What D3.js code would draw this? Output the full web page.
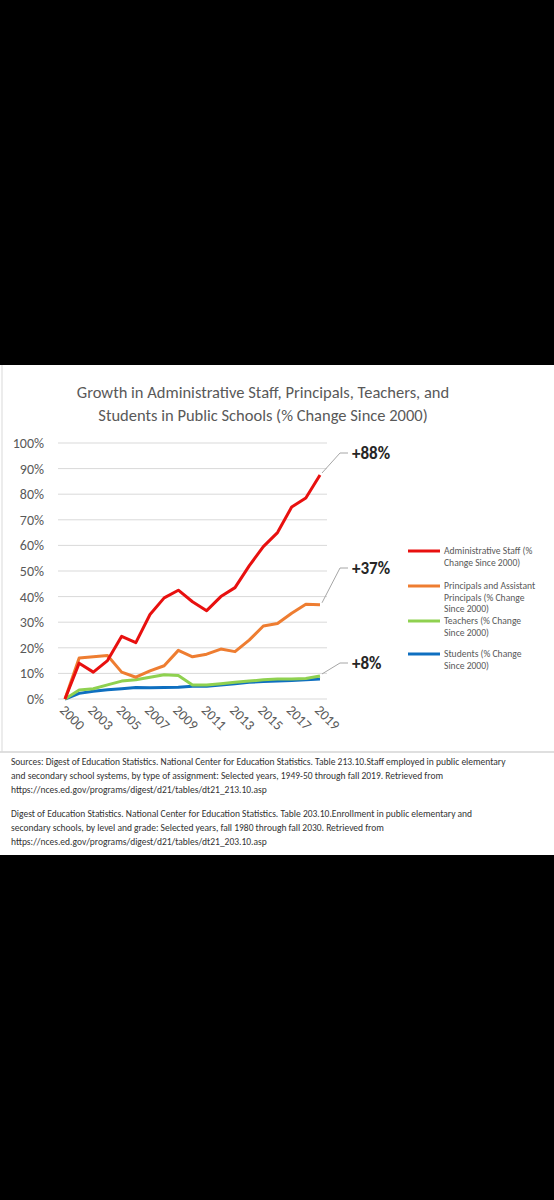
<!DOCTYPE html><html><head><meta charset="utf-8"><script src="https://cdn.jsdelivr.net/npm/d3@7"></script>
<style>body{margin:0;background:#000}svg{display:block}</style></head><body><script>
const years=["2000","2002","2003","2004","2005","2006","2007","2008","2009","2010","2011","2012","2013","2014","2015","2016","2017","2018","2019"];
const admin=[0,14,10.5,15,24.5,22,33,39.5,42.5,38,34.5,40,43.5,52,59.5,65,75,78.5,87.5];
const principals=[0,16,16.5,17,10.5,8.5,11,13,19,16.5,17.5,19.5,18.5,23,28.5,29.5,33.5,37,36.8];
const teachers=[0,3.5,4,5.5,7,7.5,8.5,9.5,9.2,5.5,5.5,6,6.5,7,7.5,7.8,7.8,8,9];
const students=[0,2.2,3,3.6,4,4.5,4.4,4.5,4.6,5,5,5.5,6,6.5,6.8,7,7.2,7.5,7.8];
const yTicks=[0,10,20,30,40,50,60,70,80,90,100];
const colors=["#e8100f","#ee7d31","#8fd150","#0e6fc0"];
const endLabels=["+88%","+37%","+8%"];
const W=554,H=1200;
const svg=d3.select("body").append("svg").attr("width",W).attr("height",H).style("font-family","Calibri, Carlito, Lato, sans-serif");
svg.append("rect").attr("width",W).attr("height",H).attr("fill","#000");
svg.append("rect").attr("x",0).attr("y",365).attr("width",W).attr("height",490).attr("fill","#fff");
svg.append("line").attr("x1",0).attr("x2",W).attr("y1",752).attr("y2",752).attr("stroke","#bfbfbf");
svg.append("line").attr("x1",2).attr("x2",2).attr("y1",365).attr("y2",752).attr("stroke","#d9d9d9");
const tc="#595959";
["Growth in Administrative Staff, Principals, Teachers, and","Students in Public Schools (% Change Since 2000)"].forEach((t,i)=>
 svg.append("text").attr("x",263).attr("y",398+i*23).attr("text-anchor","middle").attr("font-size",16.5).attr("fill",tc).text(t));
const x=d3.scalePoint().domain(years).range([65,320]);
const y=d3.scaleLinear().domain([0,100]).range([699,443]);
const g=svg.append("g");
yTicks.forEach(t=>{g.append("line").attr("x1",58).attr("x2",327).attr("y1",y(t)).attr("y2",y(t)).attr("stroke","#d9d9d9");
 g.append("text").attr("x",44).attr("y",y(t)+5).attr("text-anchor","end").attr("font-size",14).attr("fill",tc).text(t+"%");});
years.forEach((yr,i)=>{if(i%2==0){const px=x(yr);g.append("text").attr("transform",`translate(${px-6},${711}) rotate(45)`).attr("font-size",14).attr("fill",tc).text(yr);}});
const data=[admin,principals,teachers,students];
const line=d3.line().x((d,i)=>x(years[i])).y(d=>y(d));
[3,2,1,0].forEach(k=>g.append("path").datum(data[k]).attr("d",line).attr("fill","none").attr("stroke",colors[k]).attr("stroke-width",3).attr("stroke-linejoin","round"));
const labY=[457,572,667];
[0,1,2].forEach(k=>{const v=data[k][data[k].length-1];const px=x(years[years.length-1]);
 g.append("path").attr("d",`M${px+2},${y(v)-2}L${340},${labY[k]-4}L${348},${labY[k]-4}`).attr("fill","none").attr("stroke","#a6a6a6");
 g.append("text").attr("x",352).attr("y",labY[k]+2).attr("font-size",17).attr("font-weight","bold").attr("fill","#262626").text(endLabels[k]);});
const legLines=[["Administrative Staff (%","Change Since 2000)"],["Principals and Assistant","Principals (% Change","Since 2000)"],["Teachers (% Change","Since 2000)"],["Students (% Change","Since 2000)"]];
const legY=[551,586,621,654];
legLines.forEach((ls,k)=>{g.append("line").attr("x1",408).attr("x2",440).attr("y1",legY[k]).attr("y2",legY[k]).attr("stroke",colors[k]).attr("stroke-width",3);
 ls.forEach((t,j)=>g.append("text").attr("x",444).attr("y",legY[k]+3+j*11.5).attr("font-size",9.6).attr("fill",tc).text(t));});
const src=["Sources: Digest of Education Statistics. National Center for Education Statistics. Table 213.10.Staff employed in public elementary","and secondary school systems, by type of assignment: Selected years, 1949-50 through fall 2019. Retrieved from","https://nces.ed.gov/programs/digest/d21/tables/dt21_213.10.asp","","Digest of Education Statistics. National Center for Education Statistics. Table 203.10.Enrollment in public elementary and","secondary schools, by level and grade: Selected years, fall 1980 through fall 2030. Retrieved from","https://nces.ed.gov/programs/digest/d21/tables/dt21_203.10.asp"];
const srcY=[765,779,793,null,817,831,845];
src.forEach((t,i)=>{if(t)svg.append("text").attr("x",11).attr("y",srcY[i]).attr("font-size",9.5).attr("fill","#333").text(t);});
</script></body></html>
